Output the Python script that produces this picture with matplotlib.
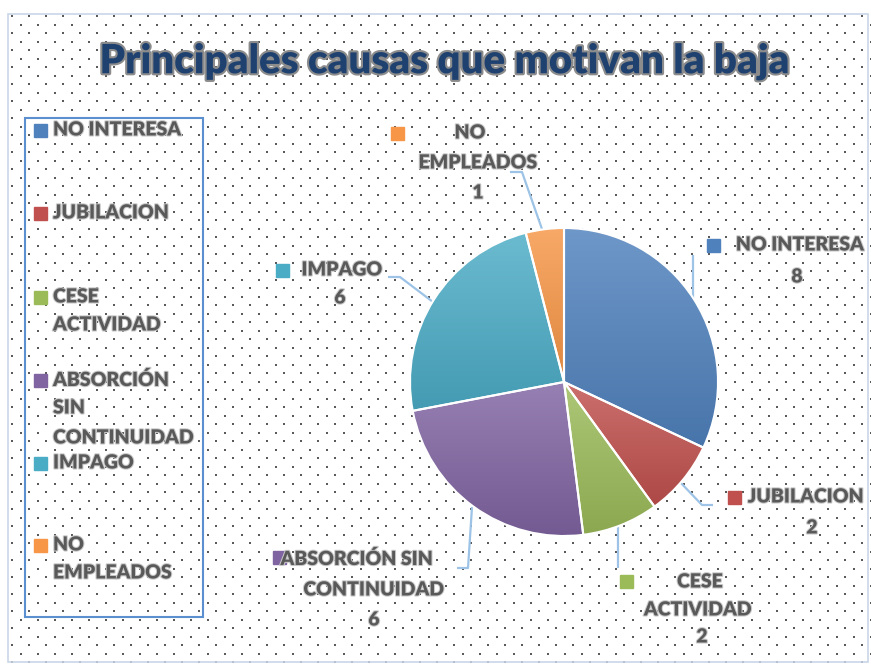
import matplotlib
matplotlib.use("Agg")
import matplotlib.pyplot as plt
import matplotlib.patheffects as pe
from matplotlib.colors import to_rgb, LinearSegmentedColormap
from matplotlib.patches import Rectangle
import numpy as np

plt.rcParams['font.family'] = ['Lato', 'DejaVu Sans']

# data
categories = ["NO INTERESA", "JUBILACION", "CESE ACTIVIDAD",
              "ABSORCIÓN SIN CONTINUIDAD", "IMPAGO", "NO EMPLEADOS"]
values = [8, 2, 2, 6, 6, 1]
colors = ["#4F81BD", "#C0504D", "#9BBB59", "#8064A2", "#4BACC6", "#F79646"]
title = "Principales causas que motivan la baja"

# legend entries are wrapped like in the original
legend_lines = [["NO INTERESA"], ["JUBILACION"], ["CESE", "ACTIVIDAD"],
                ["ABSORCIÓN", "SIN", "CONTINUIDAD"], ["IMPAGO"], ["NO", "EMPLEADOS"]]
label_lines = [["NO INTERESA"], ["JUBILACION"], ["CESE", "ACTIVIDAD"],
               ["ABSORCIÓN SIN", "CONTINUIDAD"], ["IMPAGO"], ["NO", "EMPLEADOS"]]

W, H = 871, 665
TXT = "#595959"


def Y(y):
    # image (top-down) pixel -> axes coords
    return H - y


fig = plt.figure(figsize=(W / 100, H / 100), dpi=100)
ax = fig.add_axes([0, 0, 1, 1])
ax.set_xlim(0, W)
ax.set_ylim(0, H)
ax.axis("off")

# dotted background pattern
for j, yy in enumerate(np.arange(16, H, 8.5)):
    xs = np.arange(12 + (8.5 if j % 2 else 0), W, 17)
    ax.scatter(xs, np.full(xs.shape, Y(yy)), s=2.0, marker="s", color="#5a5a5a",
               linewidths=0, zorder=0)

ax.add_patch(Rectangle((8, Y(662)), 860, 648, fill=False, ec="#c9d6e8", lw=1.2, zorder=1))

# title
ax.text(444, Y(62), title, ha="center", va="center", fontsize=29, fontweight="heavy",
        color="#1F4170", zorder=5,
        path_effects=[pe.withStroke(linewidth=3, foreground="#8c8c8c")])

# pie
cx, cy, r = 564, Y(382), 154
wedges, _ = ax.pie(values, colors=colors, startangle=90, counterclock=False,
                   center=(cx, cy), radius=r, explode=[0.02, 0, 0, 0, 0, 0],
                   wedgeprops=dict(edgecolor="white", linewidth=1.5), frame=True)
ax.set_xlim(0, W)
ax.set_ylim(0, H)
ax.set_aspect("auto")
ax.axis("off")

# gradient fill inside each slice
grad = np.linspace(0, 1, 256).reshape(-1, 1)
for w, c in zip(wedges, colors):
    base = np.array(to_rgb(c))
    light = base + (1 - base) * 0.18
    dark = base * 0.9
    cmap = LinearSegmentedColormap.from_list("g", [dark, light])
    ext = w.get_path().get_extents()
    im = ax.imshow(grad, cmap=cmap, origin="lower", aspect="auto",
                   extent=[ext.x0, ext.x1, ext.y0, ext.y1], zorder=2)
    im.set_clip_path(w)
    w.set_zorder(3)
    w.set_facecolor("none")

# leader lines (image coords)
leaders = [
    [(693, 255), (693, 298)],
    [(680, 482), (702, 505), (713, 505)],
    [(618, 525), (618, 568)],
    [(472, 507), (468, 568), (457, 568)],
    [(388, 277), (400, 277), (433, 302)],
    [(510, 172), (522, 172), (543, 232)],
]
for pts in leaders:
    xs = [p[0] for p in pts]
    ys = [Y(p[1]) for p in pts]
    ax.plot(xs, ys, color="#9DC3E6", lw=1.6, zorder=1.5, solid_capstyle="butt")

# data labels: square pos, then line centers (last line is the value)
label_pos = [
    ((713, 245), [(800, 245), (797, 277)]),
    ((734, 497), [(806, 497), (812, 528)]),
    ((626, 581), [(700, 582), (698, 610), (702, 637)]),
    ((279, 557), [(357, 559), (374, 590), (374, 620)]),
    ((282, 270), [(342, 270), (340, 298)]),
    ((397, 133), [(470, 133), (478, 163), (478, 193)]),
]
halo = [pe.withStroke(linewidth=1.5, foreground="#c8c8c8")]
sq = 13
for (sqp, centers), lines, v, c in zip(label_pos, label_lines, values, colors):
    ax.add_patch(Rectangle((sqp[0] - sq / 2, Y(sqp[1]) - sq / 2), sq, sq, color=c, zorder=4))
    for txt, (tx, ty) in zip(lines + [str(v)], centers):
        ax.text(tx, Y(ty), txt, ha="center", va="center", fontsize=14,
                fontweight="heavy", color=TXT, zorder=5, path_effects=halo)

# legend box on the left
ax.add_patch(Rectangle((25, Y(617)), 178, 499, fill=False, ec="#5B8FCF", lw=1.5, zorder=4))
legend_y = [[130], [213], [297, 325], [380, 408, 438], [463], [545, 573]]
for lines, ys, c in zip(legend_lines, legend_y, colors):
    ax.add_patch(Rectangle((34, Y(ys[0]) - 6.5), 13, 13, color=c, zorder=4))
    for txt, yy in zip(lines, ys):
        ax.text(53, Y(yy), txt, ha="left", va="center", fontsize=14,
                fontweight="heavy", color=TXT, zorder=5, path_effects=halo)

fig.savefig("out.png", dpi=100)
